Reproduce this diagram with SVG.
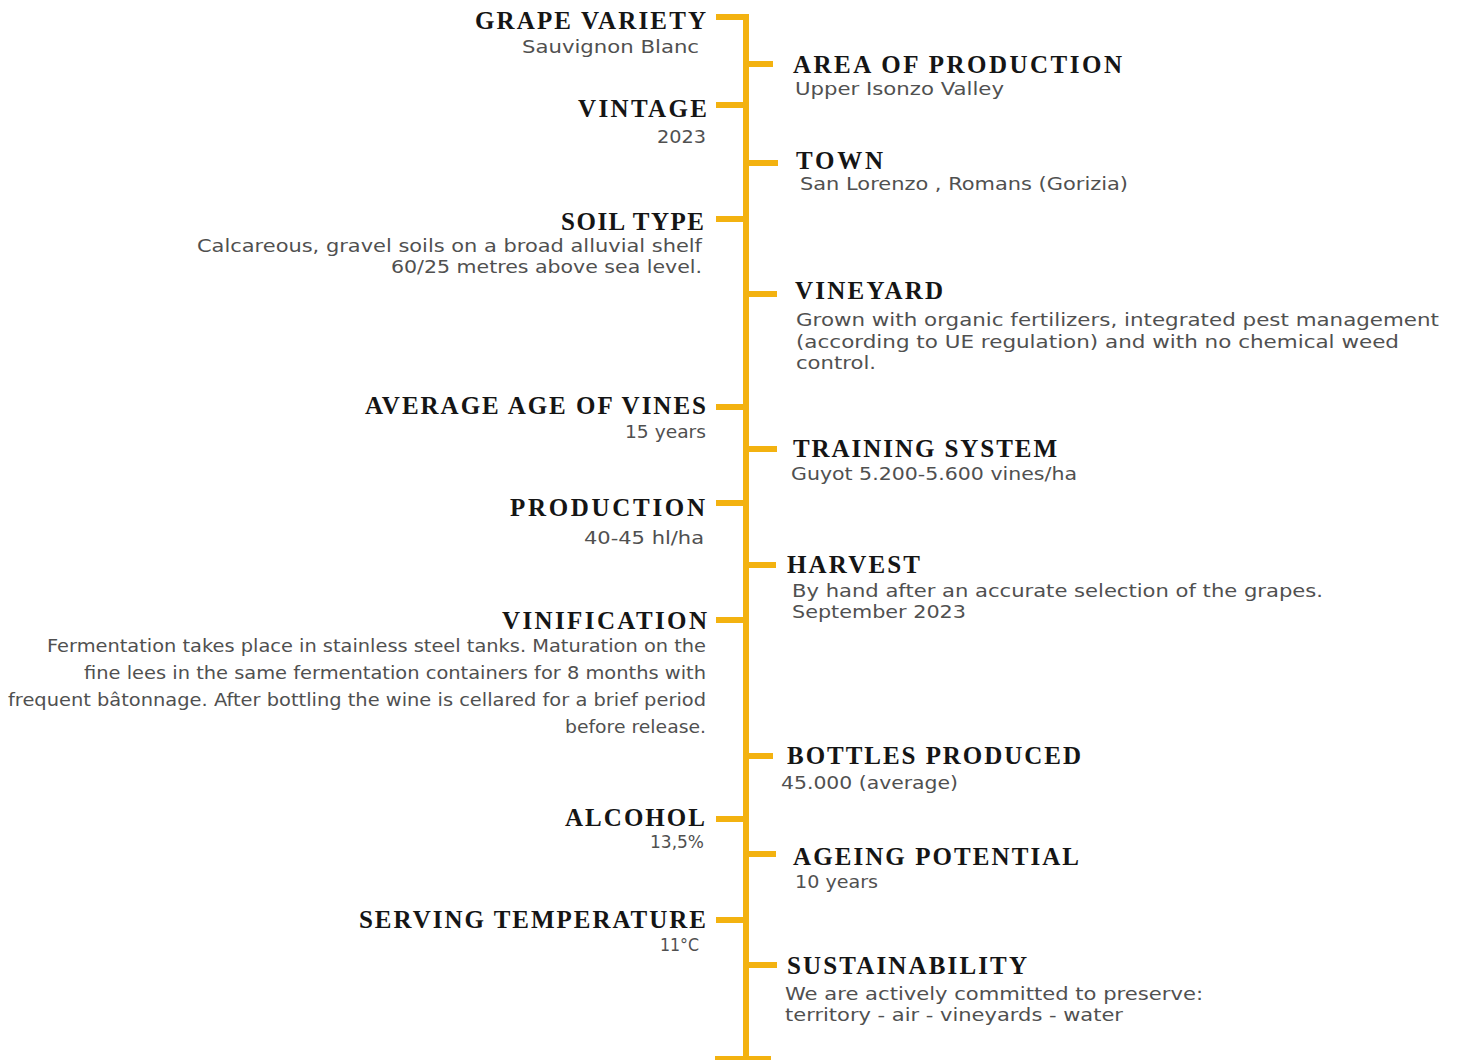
<svg xmlns="http://www.w3.org/2000/svg" width="1457" height="1060" viewBox="0 0 1457 1060">
<style>
.t{font-family:"Liberation Serif","Times New Roman",serif;font-weight:bold;font-size:25px;fill:#151515;}
.b{font-family:"DejaVu Sans","Noto Sans",sans-serif;font-size:17px;fill:#505050;}
.e{text-anchor:end;}
.k{fill:#F3B210;}
</style>
<rect width="1457" height="1060" fill="#ffffff"/>
<g id="connectors">
<rect class="k" x="743" y="14" width="6" height="1046"/>
<rect class="k" x="715" y="1056" width="56" height="4"/>
<rect class="k" x="716" y="14" width="30" height="6"/>
<rect class="k" x="716" y="102" width="30" height="6"/>
<rect class="k" x="716" y="216" width="30" height="6"/>
<rect class="k" x="716" y="404" width="30" height="6"/>
<rect class="k" x="716" y="500" width="30" height="6"/>
<rect class="k" x="716" y="617" width="30" height="6"/>
<rect class="k" x="716" y="816" width="30" height="6"/>
<rect class="k" x="716" y="917" width="30" height="6"/>
<rect class="k" x="746" y="61" width="27" height="6"/>
<rect class="k" x="746" y="160" width="32" height="6"/>
<rect class="k" x="746" y="291" width="31" height="6"/>
<rect class="k" x="746" y="446" width="31" height="6"/>
<rect class="k" x="746" y="562" width="30" height="6"/>
<rect class="k" x="746" y="753" width="27" height="6"/>
<rect class="k" x="746" y="851" width="30" height="6"/>
<rect class="k" x="746" y="962" width="31" height="6"/>
</g>
<g id="grape-variety">
<text class="t e" x="706" y="29" textLength="231" lengthAdjust="spacing">GRAPE VARIETY</text>
<text class="b e" x="699" y="53" textLength="177" lengthAdjust="spacingAndGlyphs">Sauvignon Blanc</text>
</g>
<g id="vintage">
<text class="t e" x="707" y="117" textLength="129" lengthAdjust="spacing">VINTAGE</text>
<text class="b e" x="706" y="143" textLength="49" lengthAdjust="spacingAndGlyphs">2023</text>
</g>
<g id="soil-type">
<text class="t e" x="704" y="230" textLength="143" lengthAdjust="spacing">SOIL TYPE</text>
<text class="b e" x="702" y="252" textLength="505" lengthAdjust="spacingAndGlyphs">Calcareous, gravel soils on a broad alluvial shelf</text>
<text class="b e" x="702" y="273" textLength="311" lengthAdjust="spacingAndGlyphs">60/25 metres above sea level.</text>
</g>
<g id="average-age">
<text class="t e" x="706" y="414" textLength="341" lengthAdjust="spacing">AVERAGE AGE OF VINES</text>
<text class="b e" x="706" y="438" textLength="81" lengthAdjust="spacingAndGlyphs">15 years</text>
</g>
<g id="production">
<text class="t e" x="705" y="516" textLength="195" lengthAdjust="spacing">PRODUCTION</text>
<text class="b e" x="704" y="544" textLength="120" lengthAdjust="spacingAndGlyphs">40-45 hl/ha</text>
</g>
<g id="vinification">
<text class="t e" x="707" y="629" textLength="205" lengthAdjust="spacing">VINIFICATION</text>
<text class="b e" x="706" y="652" textLength="659" lengthAdjust="spacingAndGlyphs">Fermentation takes place in stainless steel tanks. Maturation on the</text>
<text class="b e" x="706" y="679" textLength="622" lengthAdjust="spacingAndGlyphs">fine lees in the same fermentation containers for 8 months with</text>
<text class="b e" x="706" y="706" textLength="698" lengthAdjust="spacingAndGlyphs">frequent bâtonnage. After bottling the wine is cellared for a brief period</text>
<text class="b e" x="706" y="733" textLength="141" lengthAdjust="spacingAndGlyphs">before release.</text>
</g>
<g id="alcohol">
<text class="t e" x="705" y="826" textLength="140" lengthAdjust="spacing">ALCOHOL</text>
<text class="b e" x="704" y="848" textLength="54" lengthAdjust="spacingAndGlyphs">13,5%</text>
</g>
<g id="serving-temperature">
<text class="t e" x="706" y="928" textLength="347" lengthAdjust="spacing">SERVING TEMPERATURE</text>
<text class="b e" x="699" y="951" textLength="39" lengthAdjust="spacingAndGlyphs">11°C</text>
</g>
<g id="area-of-production">
<text class="t" x="793" y="73" textLength="329" lengthAdjust="spacing">AREA OF PRODUCTION</text>
<text class="b" x="795" y="95" textLength="209" lengthAdjust="spacingAndGlyphs">Upper Isonzo Valley</text>
</g>
<g id="town">
<text class="t" x="796" y="169" textLength="87" lengthAdjust="spacing">TOWN</text>
<text class="b" x="800" y="190" textLength="328" lengthAdjust="spacingAndGlyphs">San Lorenzo , Romans (Gorizia)</text>
</g>
<g id="vineyard">
<text class="t" x="795" y="299" textLength="148" lengthAdjust="spacing">VINEYARD</text>
<text class="b" x="796" y="326" textLength="643" lengthAdjust="spacingAndGlyphs">Grown with organic fertilizers, integrated pest management</text>
<text class="b" x="796" y="348" textLength="603" lengthAdjust="spacingAndGlyphs">(according to UE regulation) and with no chemical weed</text>
<text class="b" x="796" y="369" textLength="80" lengthAdjust="spacingAndGlyphs">control.</text>
</g>
<g id="training-system">
<text class="t" x="793" y="457" textLength="264" lengthAdjust="spacing">TRAINING SYSTEM</text>
<text class="b" x="791" y="480" textLength="286" lengthAdjust="spacingAndGlyphs">Guyot 5.200-5.600 vines/ha</text>
</g>
<g id="harvest">
<text class="t" x="787" y="573" textLength="133" lengthAdjust="spacing">HARVEST</text>
<text class="b" x="792" y="597" textLength="531" lengthAdjust="spacingAndGlyphs">By hand after an accurate selection of the grapes.</text>
<text class="b" x="792" y="618" textLength="174" lengthAdjust="spacingAndGlyphs">September 2023</text>
</g>
<g id="bottles-produced">
<text class="t" x="787" y="764" textLength="294" lengthAdjust="spacing">BOTTLES PRODUCED</text>
<text class="b" x="781" y="789" textLength="177" lengthAdjust="spacingAndGlyphs">45.000 (average)</text>
</g>
<g id="ageing-potential">
<text class="t" x="793" y="865" textLength="286" lengthAdjust="spacing">AGEING POTENTIAL</text>
<text class="b" x="795" y="888" textLength="83" lengthAdjust="spacingAndGlyphs">10 years</text>
</g>
<g id="sustainability">
<text class="t" x="787" y="974" textLength="240" lengthAdjust="spacing">SUSTAINABILITY</text>
<text class="b" x="785" y="1000" textLength="418" lengthAdjust="spacingAndGlyphs">We are actively committed to preserve:</text>
<text class="b" x="785" y="1021" textLength="338" lengthAdjust="spacingAndGlyphs">territory - air - vineyards - water</text>
</g>
</svg>
